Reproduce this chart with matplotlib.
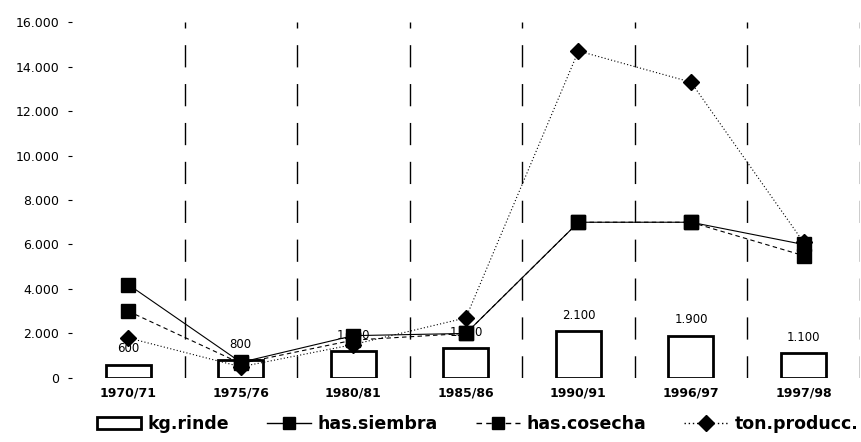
import matplotlib
matplotlib.use("Agg")
import matplotlib.pyplot as plt
from matplotlib.patches import Patch
from matplotlib.lines import Line2D

categories = ["1970/71", "1975/76", "1980/81", "1985/86", "1990/91", "1996/97", "1997/98"]
kg_rinde = [600, 800, 1200, 1350, 2100, 1900, 1100]
rinde_labels = ["600", "800", "1.200", "1.350", "2.100", "1.900", "1.100"]
has_siembra = [4200, 700, 1900, 2000, 7000, 7000, 6000]
has_cosecha = [3000, 650, 1700, 2000, 7000, 7000, 5500]
ton_producc = [1800, 500, 1500, 2700, 14700, 13300, 6100]
yticks = [0, 2000, 4000, 6000, 8000, 10000, 12000, 14000, 16000]
ytick_labels = ["0", "2.000", "4.000", "6.000", "8.000", "10.000", "12.000", "14.000", "16.000"]

plt.rcParams['font.family'] = ['DejaVu Sans']

fig = plt.figure(figsize=(8.61, 4.42), dpi=100)
ax = fig.add_axes([0.0836, 0.145, 0.915, 0.805])

x = list(range(len(categories)))

# vertical separators
for b in [i + 0.5 for i in range(len(categories))]:
    ax.axvline(b, color="black", lw=1, linestyle=(0, (16, 12)), zorder=0)

ax.bar(x, kg_rinde, width=0.4, facecolor="white", edgecolor="black", linewidth=2, zorder=2)
for xi, v, lab in zip(x, kg_rinde, rinde_labels):
    ax.text(xi, v + 420, lab, ha="center", va="bottom", fontsize=8.5, zorder=5)

ax.plot(x, has_siembra, color="black", lw=0.8, linestyle="-", marker="s", markersize=9.5, zorder=3)
ax.plot(x, has_cosecha, color="black", lw=0.8, linestyle=(0, (4, 3)), marker="s", markersize=9.5, zorder=3)
ax.plot(x, ton_producc, color="black", lw=0.8, linestyle=(0, (1, 2)), marker="D", markersize=8, zorder=4)

ax.set_xlim(-0.5, 6.5)
ax.set_ylim(0, 16000)
ax.set_yticks(yticks)
ax.set_yticklabels(ytick_labels, fontsize=9)
ax.set_xticks(x)
ax.set_xticklabels(categories, fontsize=9, fontweight="bold")
ax.tick_params(axis="x", length=0, pad=6)
ax.tick_params(axis="y", length=3, pad=6)
for s in ax.spines.values():
    s.set_visible(False)

handles = [
    Patch(facecolor="white", edgecolor="black", linewidth=2),
    Line2D([], [], color="black", lw=1, linestyle="-", marker="s", markersize=9),
    Line2D([], [], color="black", lw=1, linestyle=(0, (4, 3)), marker="s", markersize=9),
    Line2D([], [], color="black", lw=1, linestyle=(0, (1, 2)), marker="D", markersize=8),
]
labels = ["kg.rinde", "has.siembra", "has.cosecha", "ton.producc."]
fig.legend(handles, labels, loc="lower center", ncol=4, frameon=False,
           bbox_to_anchor=(0.555, -0.015), prop={"weight": "bold", "size": 12.5},
           handlelength=2.5, columnspacing=2.2, handletextpad=0.4)

fig.savefig("out.png", dpi=100)
